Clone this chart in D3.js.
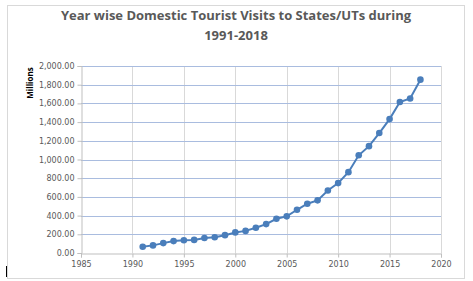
<!DOCTYPE html>
<html>
<head>
<meta charset="utf-8">
<script src="https://cdn.jsdelivr.net/npm/d3@7"></script>
<style>
  body { margin: 0; background: #fff; }
  text { font-family: "Open Sans", "DejaVu Sans", sans-serif; }
</style>
</head>
<body>
<div id="chart"></div>
<script>
// Domestic tourist visits (millions), 1991-2018
const years = [1991, 1992, 1993, 1994, 1995, 1996, 1997, 1998, 1999, 2000,
  2001, 2002, 2003, 2004, 2005, 2006, 2007, 2008, 2009, 2010,
  2011, 2012, 2013, 2014, 2015, 2016, 2017, 2018];
const visits = [66.67, 81.45, 105.81, 127.12, 136.64, 140.12, 159.88, 168.20, 190.67, 220.11,
  236.47, 269.60, 309.04, 366.23, 391.95, 462.44, 526.70, 563.03, 668.80, 747.70,
  864.53, 1045.05, 1142.53, 1282.80, 1431.97, 1615.39, 1652.49, 1853.79];
const xTicks = [1985, 1990, 1995, 2000, 2005, 2010, 2015, 2020];
const yTicks = [0, 200, 400, 600, 800, 1000, 1200, 1400, 1600, 1800, 2000];

const W = 473, H = 281;
const margin = { top: 66, right: 32, bottom: 28, left: 81 };

const svg = d3.select("#chart").append("svg")
  .attr("width", W).attr("height", H);

// chart frame
svg.append("rect")
  .attr("x", 7.5).attr("y", 5.5)
  .attr("width", 457).attr("height", 273)
  .attr("fill", "#fff").attr("stroke", "#d9d9d9");

const x = d3.scaleLinear().domain([1985, 2020]).range([margin.left, W - margin.right]);
const y = d3.scaleLinear().domain([0, 2000]).range([H - margin.bottom, margin.top]);

// gridlines
svg.append("g").selectAll("line").data(xTicks.slice(1)).enter().append("line")
  .attr("x1", d => Math.round(x(d)) + 0.5).attr("x2", d => Math.round(x(d)) + 0.5)
  .attr("y1", y(2000)).attr("y2", y(0))
  .attr("stroke", "#d9d9d9");

svg.append("g").selectAll("line").data(yTicks.slice(1)).enter().append("line")
  .attr("x1", x(1985)).attr("x2", x(2020))
  .attr("y1", d => Math.round(y(d)) + 0.5).attr("y2", d => Math.round(y(d)) + 0.5)
  .attr("stroke", "#a9bcdf");

// axes
const fmt = d3.format(",.2f");
const yAxis = svg.append("g")
  .attr("transform", `translate(${Math.round(x(1985)) + 0.5},0)`)
  .call(d3.axisLeft(y).tickValues(yTicks).tickFormat(fmt).tickSize(4).tickPadding(3));

const xAxis = svg.append("g")
  .attr("transform", `translate(0,${Math.round(y(0)) + 0.5})`)
  .call(d3.axisBottom(x).tickValues(xTicks).tickFormat(d3.format("d")).tickSize(4).tickPadding(4));

[yAxis, xAxis].forEach(g => {
  g.select(".domain").attr("stroke", "#bfbfbf");
  g.selectAll(".tick line").attr("stroke", "#bfbfbf");
  g.selectAll(".tick text")
    .attr("fill", "#595959")
    .style("font-family", "'DejaVu Sans', sans-serif")
    .style("font-size", "8px");
});

// series line + markers
const pts = years.map((yr, i) => ({ yr, v: visits[i] }));
svg.append("path").datum(pts)
  .attr("fill", "none")
  .attr("stroke", "#4a7ebb")
  .attr("stroke-width", 2)
  .attr("d", d3.line().x(d => x(d.yr)).y(d => y(d.v)));

svg.append("g").selectAll("circle").data(pts).enter().append("circle")
  .attr("cx", d => x(d.yr)).attr("cy", d => y(d.v))
  .attr("r", 3.3)
  .attr("fill", "#4a7ebb");

// title
svg.append("text")
  .attr("x", 236).attr("y", 20)
  .attr("text-anchor", "middle")
  .attr("fill", "#595959")
  .style("font-size", "13px").style("font-weight", "bold")
  .text("Year wise Domestic Tourist Visits to States/UTs during");
svg.append("text")
  .attr("x", 236).attr("y", 40)
  .attr("text-anchor", "middle")
  .attr("fill", "#595959")
  .style("font-size", "13px").style("font-weight", "bold")
  .text("1991-2018");

// y axis title
svg.append("text")
  .attr("transform", "translate(33,83) rotate(-90)")
  .attr("text-anchor", "middle")
  .attr("fill", "#000")
  .style("font-size", "8px").style("font-weight", "bold")
  .text("Millions");

// small cursor mark at bottom-left
svg.append("rect")
  .attr("x", 6).attr("y", 266).attr("width", 1).attr("height", 11)
  .attr("fill", "#000");
</script>
</body>
</html>
